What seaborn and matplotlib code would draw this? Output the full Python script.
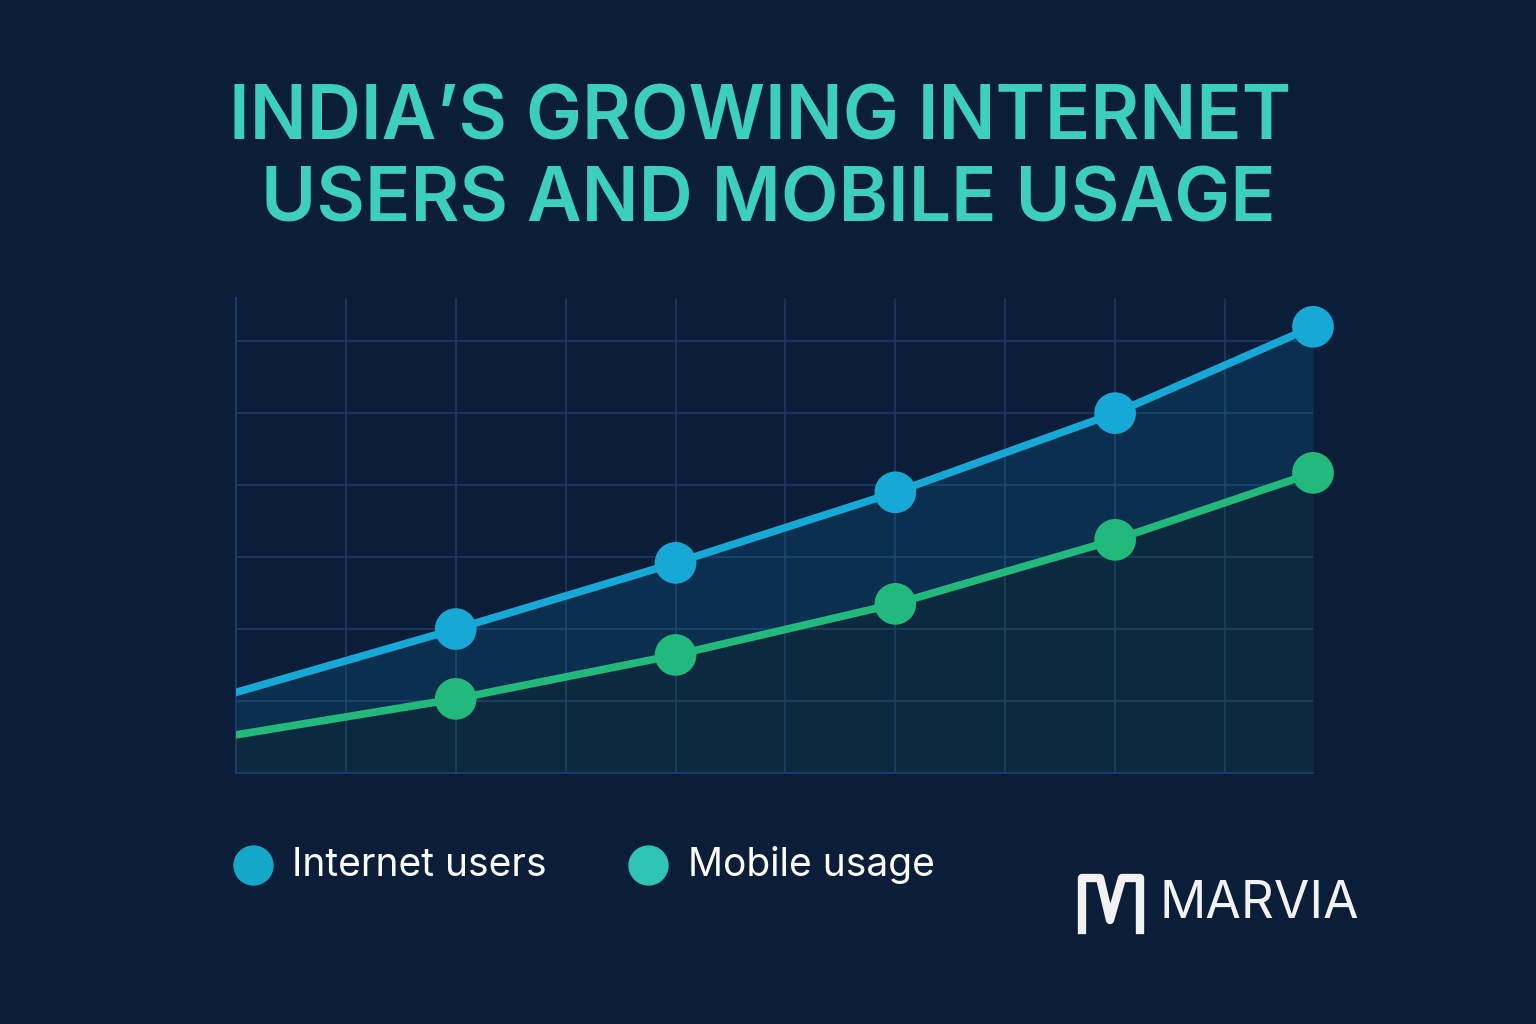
import matplotlib
matplotlib.use("Agg")
import matplotlib.pyplot as plt
import seaborn as sns
import pandas as pd
import numpy as np

years = [0, 2, 4, 6, 8, 9.8]
internet_users = [1.12, 2.0, 2.92, 3.9, 5.0, 6.2]
mobile_usage = [0.53, 1.03, 1.64, 2.35, 3.24, 4.17]

BG = "#0a1e3a"
C_INT = "#17a9d6"
C_MOB = "#22b97c"

df = pd.DataFrame({"x": years * 2,
                   "y": internet_users + mobile_usage,
                   "series": ["Internet users"] * 6 + ["Mobile usage"] * 6})

fig = plt.figure(figsize=(15.36, 10.24), dpi=100, facecolor=BG)
ax = fig.add_axes([0.1536, 0.2451, 0.7012, 0.4639], facecolor=BG)

ax.fill_between(years, mobile_usage, internet_users, color=C_INT, alpha=0.13, lw=0)
ax.fill_between(years, 0, mobile_usage, color=C_MOB, alpha=0.08, lw=0)

sns.lineplot(data=df, x="x", y="y", hue="series", palette=[C_INT, C_MOB],
             lw=5.5, legend=False, ax=ax, zorder=3)
for vals, c in [(internet_users, C_INT), (mobile_usage, C_MOB)]:
    sns.scatterplot(x=years[1:], y=vals[1:], color=c, s=900, edgecolor="none",
                    ax=ax, zorder=4, legend=False, clip_on=False)

ax.set_xlim(0, 9.8)
ax.set_ylim(0, 6.6)
ax.set_xticks(np.arange(0, 10, 1))
ax.set_yticks(np.arange(0, 7, 1))
ax.grid(True, color="#1b365d", lw=1.3)
ax.set_axisbelow(True)
ax.tick_params(length=0, labelbottom=False, labelleft=False)
ax.set_xlabel("")
ax.set_ylabel("")
for s in ["top", "right"]:
    ax.spines[s].set_visible(False)
for s in ["left", "bottom"]:
    ax.spines[s].set_color("#1d3a63")
    ax.spines[s].set_linewidth(1.5)

fig.text(0.495, 0.883, "INDIA’S GROWING INTERNET", ha="center", va="center",
         color="#3ccfc0", fontsize=54, fontweight="semibold", family="Inter")
fig.text(0.500, 0.803, "USERS AND MOBILE USAGE", ha="center", va="center",
         color="#3ccfc0", fontsize=54, fontweight="semibold", family="Inter")

# legend
for xp, c in [(253, "#13a8c8"), (648, "#2ec4b6")]:
    fig.add_artist(plt.Line2D([xp / 1536], [1 - 865 / 1024], marker="o", ms=28,
                              color=c, lw=0, transform=fig.transFigure))
fig.text(292 / 1536, 1 - 865 / 1024, "Internet users", color="white", fontsize=28,
         va="center", family="Inter")
fig.text(688 / 1536, 1 - 865 / 1024, "Mobile usage", color="white", fontsize=28,
         va="center", family="Inter")

# logo
lx = [1082, 1082, 1100, 1110, 1122, 1140, 1140]
ly = [930, 878, 878, 920, 878, 878, 930]
fig.add_artist(plt.Line2D([v / 1536 for v in lx], [1 - v / 1024 for v in ly],
                          color="#f2f2f2", lw=6, transform=fig.transFigure))
fig.text(1160 / 1536, 1 - 905 / 1024, "MARVIA", color="#f2f2f2", fontsize=37,
         va="center", family="Inter")

fig.savefig("out.png", dpi=100, facecolor=BG)
